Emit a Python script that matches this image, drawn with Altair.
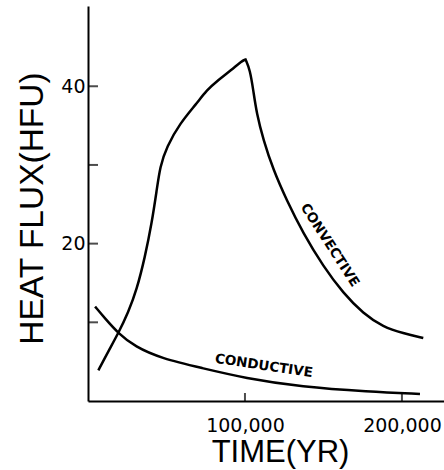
import altair as alt
import pandas as pd

# Convective heat flux (HFU) vs time (years); the peak is repeated to keep its corner sharp
conv_x = [6600, 12900, 19300, 25700, 31000, 36300, 40600, 43800, 45900,
          50100, 58600, 69200, 75600, 83000, 91500, 97900, 100400, 100400, 100400,
          103200, 105300, 107400, 111700, 118000, 126600, 137100, 149900,
          162600, 175400, 188100, 200800, 213600, 213600, 213600]
conv_y = [3.9, 6.3, 8.6, 11.3, 14.1, 18.3, 22.6, 26.8, 29.8,
          32.3, 35.3, 37.8, 39.5, 40.8, 42.1, 43.2, 43.4, 43.4, 43.4,
          42.1, 39.5, 36.6, 33.2, 29.4, 25.5, 21.3, 17.1,
          13.7, 11.1, 9.4, 8.6, 8.0, 8.0, 8.0]

# Conductive heat flux
cond_x = [4500, 4500, 10800, 19300, 29900, 46900, 72400, 100000, 136100, 178500, 211500, 211500]
cond_y = [12.0, 12.0, 10.5, 8.6, 6.9, 5.4, 4.2, 2.9, 1.8, 1.2, 0.9, 0.9]

# Axis ticks and labels
y_ticks = [10, 20, 30, 40]
y_labels = [20, 40]
x_ticks = [100000, 200000]

# Curve annotations
label_text = ["CONVECTIVE", "CONDUCTIVE"]
label_x = [154000, 112000]
label_y = [19.8, 4.45]
label_angle = [57, 8.5]

conv = pd.DataFrame({"t": conv_x, "q": conv_y, "s": "convective", "o": range(len(conv_x))})
cond = pd.DataFrame({"t": cond_x, "q": cond_y, "s": "conductive", "o": range(len(cond_x))})
lines_df = pd.concat([conv, cond], ignore_index=True)
ytick_df = pd.DataFrame({"v": y_ticks})
xtick_df = pd.DataFrame({"v": x_ticks})
lab_df = pd.DataFrame({"text": label_text, "t": label_x, "q": label_y, "angle": label_angle})

xscale = alt.Scale(domain=[0, 226800], nice=False, zero=False)
yscale = alt.Scale(domain=[0, 50.2], nice=False, zero=False)

xaxis = alt.Axis(
    values=x_ticks, format=",.0f", ticks=False, grid=False,
    domainColor="black", domainWidth=2,
    labelFont="DejaVu Sans", labelFontSize=19, labelColor="black",
    labelPadding=30, labelBaseline="alphabetic",
    title="TIME(YR)", titleFont="Liberation Sans", titleFontSize=31,
    titleFontWeight="normal", titleColor="black",
    titleX=192, titleY=60, titleAlign="center", titleBaseline="alphabetic",
)
yaxis = alt.Axis(
    values=y_labels, ticks=False, grid=False,
    domainColor="black", domainWidth=2,
    labelFont="DejaVu Sans", labelFontSize=19, labelColor="black",
    labelPadding=3,
    title="HEAT FLUX(HFU)", titleFont="Liberation Sans", titleFontSize=33.5,
    titleFontWeight="normal", titleColor="black",
    titleAngle=270, titleX=-46, titleY=202, titleAlign="center",
    titleBaseline="alphabetic",
)

lines = alt.Chart(lines_df).mark_line(
    color="black", strokeWidth=2.5, interpolate="basis"
).encode(
    x=alt.X("t:Q", scale=xscale, axis=xaxis),
    y=alt.Y("q:Q", scale=yscale, axis=yaxis),
    detail="s:N",
    order="o:Q",
)

yticks = alt.Chart(ytick_df).mark_tick(
    orient="horizontal", color="black", size=10, thickness=2, xOffset=5
).encode(
    x=alt.datum(0, scale=xscale),
    y=alt.Y("v:Q", scale=yscale),
)

xticks = alt.Chart(xtick_df).mark_tick(
    orient="vertical", color="black", size=8, thickness=2, yOffset=-4
).encode(
    x=alt.X("v:Q", scale=xscale),
    y=alt.datum(0, scale=yscale),
)

labels = alt.Chart(lab_df).mark_text(
    font="DejaVu Sans", fontWeight="bold", fontSize=13.5, color="black",
    align="center", baseline="middle"
).encode(
    x=alt.X("t:Q", scale=xscale),
    y=alt.Y("q:Q", scale=yscale),
    text="text:N",
    angle=alt.Angle("angle:Q", scale=None),
)

chart = alt.layer(lines, yticks, xticks, labels).properties(
    width=356, height=395,
    autosize=alt.AutoSizeParams(type="none"),
    padding={"left": 88, "top": 6, "right": 0, "bottom": 69},
    background="white",
).configure_view(stroke=None)

chart.save("out.html", embed_options={"renderer": "svg", "actions": False})
